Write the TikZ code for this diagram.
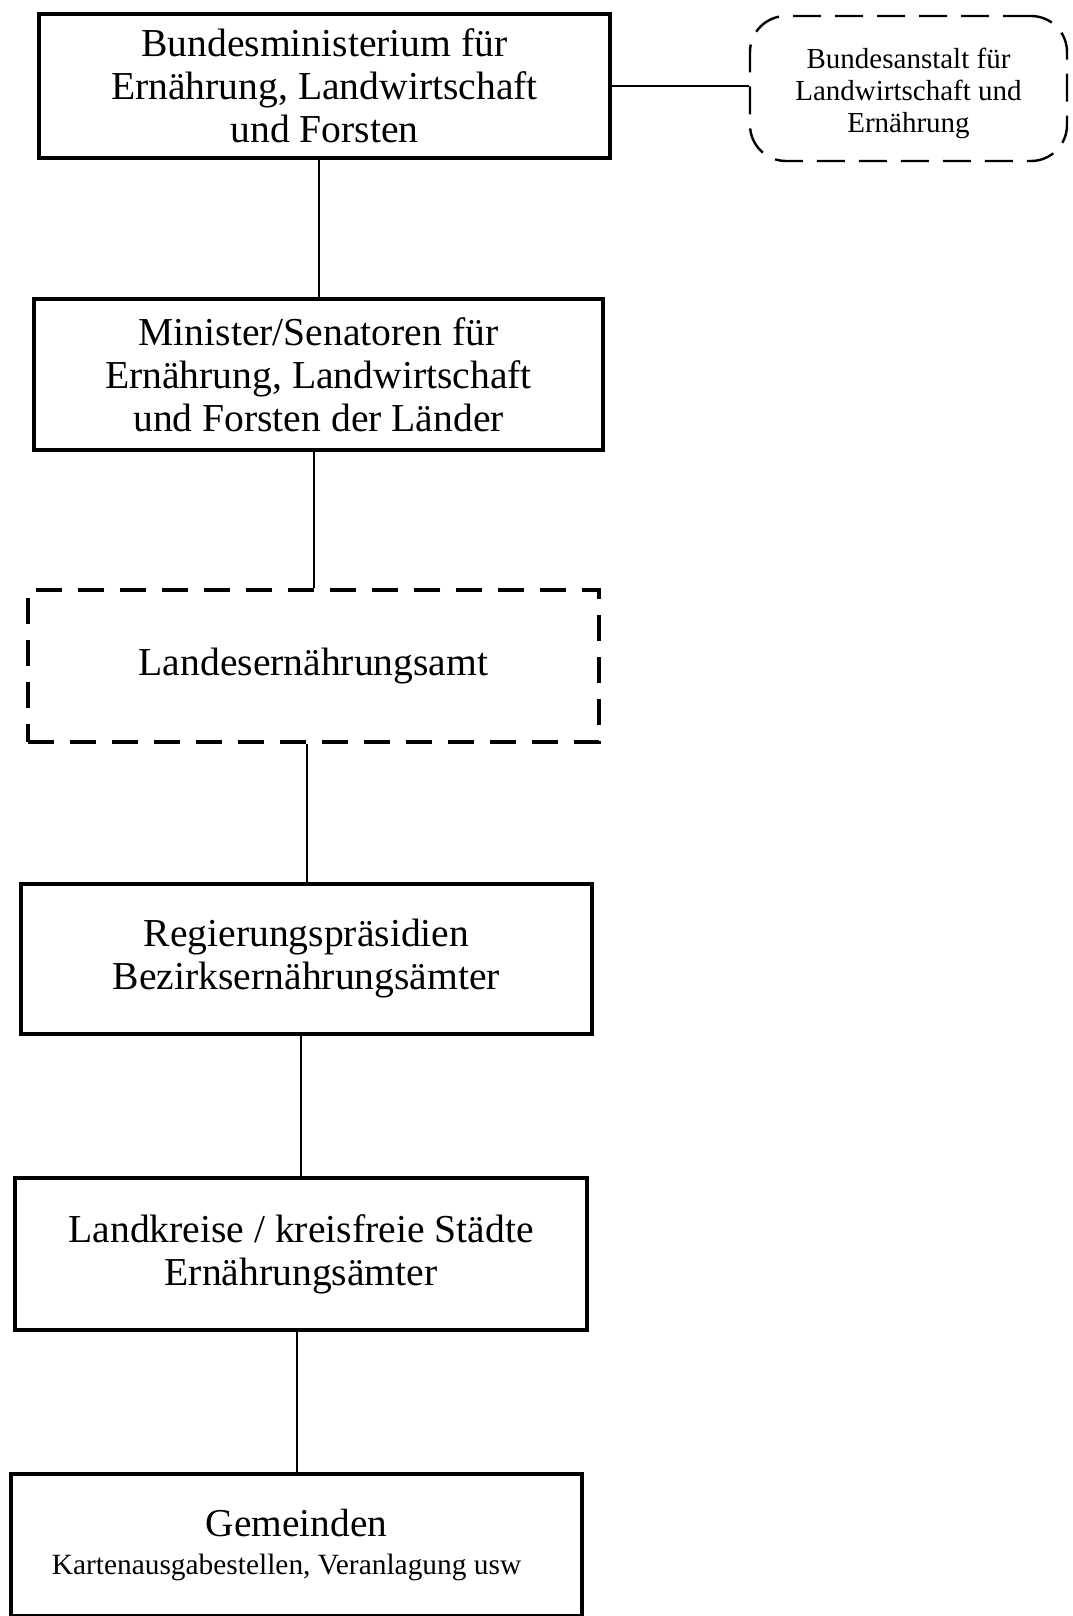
\documentclass[tikz,border=0pt]{standalone}
\usepackage{fontspec}
\setmainfont{Liberation Serif}
\begin{document}
\begin{tikzpicture}[x=0.5pt,y=-0.5pt,
  box/.style={draw, line width=1.6pt, inner sep=0pt, align=center, font=\fontsize{19.8}{21.5}\selectfont},
  dbox/.style={box, dash pattern=on 13pt off 8pt},
  rbox/.style={draw, line width=1.2pt, dash pattern=on 14pt off 7pt, rounded corners=18pt, inner sep=0pt},
  rtext/.style={inner sep=0pt, align=center, font=\fontsize{14.5}{16}\selectfont},
  link/.style={line width=1pt}]
\useasboundingbox (0,0) rectangle (1072,1616);
\node[box, minimum width=285.5pt, minimum height=72pt] (b1) at (324.5,86) {Bundesministerium für\\Ernährung, Landwirtschaft\\und Forsten};
\node[rbox, minimum width=158.5pt, minimum height=72.5pt] (rb) at (908.5,88.5) {};
\node[rtext] (rbt) at ([yshift=-2.5pt]rb.center) {Bundesanstalt für\\Landwirtschaft und\\Ernährung};
\node[box, minimum width=284.5pt, minimum height=75.5pt] (b2) at (318.5,374.5) {Minister/Senatoren für\\Ernährung, Landwirtschaft\\und Forsten der Länder};
\node[dbox, minimum width=285.5pt, minimum height=76pt] (b3) at (313.5,666) {Landesernährungsamt};
\node[box, minimum width=285.5pt, minimum height=75pt] (b4) at (306.5,959) {Regierungspräsidien\\Bezirksernährungsämter};
\node[box, minimum width=286pt, minimum height=76pt] (b5) at (301,1254) {Landkreise / kreisfreie Städte\\Ernährungsämter};
\node[box, minimum width=285.5pt, minimum height=71pt, font=\fontsize{14.7}{18}\selectfont] (b6) at (296.5,1545) {{\fontsize{19.7}{21.5}\selectfont Gemeinden}\\[1pt]Kartenausgabestellen, Veranlagung usw\hspace*{10pt}};
\draw[link] (b1.east) -- (b1.east -| rb.west);
\draw[link] (b2.north |- b1.south) -- (b2.north);
\draw[link] (b3.north |- b2.south) -- (b3.north);
\draw[link] (b4.north |- b3.south) -- (b4.north);
\draw[link] (b5.north |- b4.south) -- (b5.north);
\draw[link] (b6.north |- b5.south) -- (b6.north);
\end{tikzpicture}
\end{document}
